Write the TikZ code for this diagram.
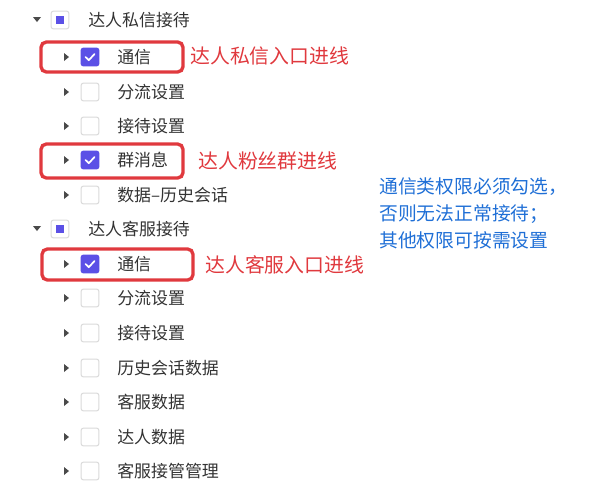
\documentclass[tikz,border=0pt]{standalone}
\usepackage{fontspec}
\setmainfont{Noto Sans CJK SC}
\definecolor{treetext}{HTML}{333333}
\definecolor{caret}{HTML}{4A4A4A}
\definecolor{boxline}{HTML}{D9D9D9}
\definecolor{checkfill}{HTML}{5B50E6}
\definecolor{markred}{HTML}{E0393E}
\definecolor{noteblue}{HTML}{1F6FD6}

\tikzset{
  itemtext/.style={anchor=west, inner sep=0pt, text=treetext, font=\fontsize{12.7pt}{14pt}\selectfont},
  cbox/.style={draw=boxline, fill=white, line width=0.75pt, rounded corners=1.5pt, minimum size=13.2pt, inner sep=0pt},
  cboxon/.style={cbox, draw=checkfill, fill=checkfill},
  redframe/.style={draw=markred, line width=2.5pt, rounded corners=4pt},
  redtext/.style={anchor=west, inner sep=0pt, text=markred, font=\fontsize{14.9pt}{16pt}\selectfont},
  notetext/.style={anchor=west, inner sep=0pt, text=noteblue, font=\fontsize{14.1pt}{20.3pt}\selectfont, align=left}
}

\begin{document}
\begin{tikzpicture}[x=0.75pt,y=-0.75pt]
  \useasboundingbox (0,0) rectangle (592,500);

  % top level groups
  \foreach \gy/\gname/\gtext in {20/ga/达人私信接待, 229/gb/达人客服接待} {
    \fill [caret] (33,\gy-3) -- (41,\gy-3) -- (37,\gy+2) -- cycle;
    \node [cbox] (\gname box) at (60,\gy) {};
    \fill [checkfill] (56,\gy-4) rectangle (64,\gy+4);
    \node [itemtext] (\gname) at (88,\gy) {\gtext};
  }

  % child rows
  \foreach \cy/\cname/\ctext in {
      92/a2/分流设置, 126/a3/接待设置, 195/a5/数据–历史会话,
      298/b2/分流设置, 333/b3/接待设置, 368/b4/历史会话数据,
      402/b5/客服数据, 437/b6/达人数据, 471/b7/客服接管管理} {
    \fill [caret] (64,\cy-4) -- (69,\cy) -- (64,\cy+4) -- cycle;
    \node [cbox] (\cname box) at (90,\cy) {};
    \node [itemtext] (\cname) at (117,\cy) {\ctext};
  }

  % checked rows
  \foreach \cy/\cname/\ctext in {57/a1/通信, 160/a4/群消息, 264/b1/通信} {
    \fill [caret] (64,\cy-4) -- (69,\cy) -- (64,\cy+4) -- cycle;
    \node [cboxon] (\cname box) at (90,\cy) {};
    \draw [white, line width=1.3pt, line cap=round, line join=round]
      (85.5,\cy) -- (88.8,\cy+3.2) -- (94.5,\cy-3);
    \node [itemtext] (\cname) at (117,\cy) {\ctext};
  }

  % red frames and notes
  \draw [redframe] (41,42) rectangle (183,72);
  \draw [redframe] (41,144) rectangle (183,178);
  \draw [redframe] (42,249) rectangle (193,280);
  \node [redtext] (na1) at (190,56) {达人私信入口进线};
  \node [redtext] (na4) at (198,161) {达人粉丝群进线};
  \node [redtext] (nb1) at (205,265) {达人客服入口进线};

  % blue note
  \node [notetext] (rule) at (379,213) {通信类权限必须勾选，\\否则无法正常接待；\\其他权限可按需设置};
\end{tikzpicture}
\end{document}
